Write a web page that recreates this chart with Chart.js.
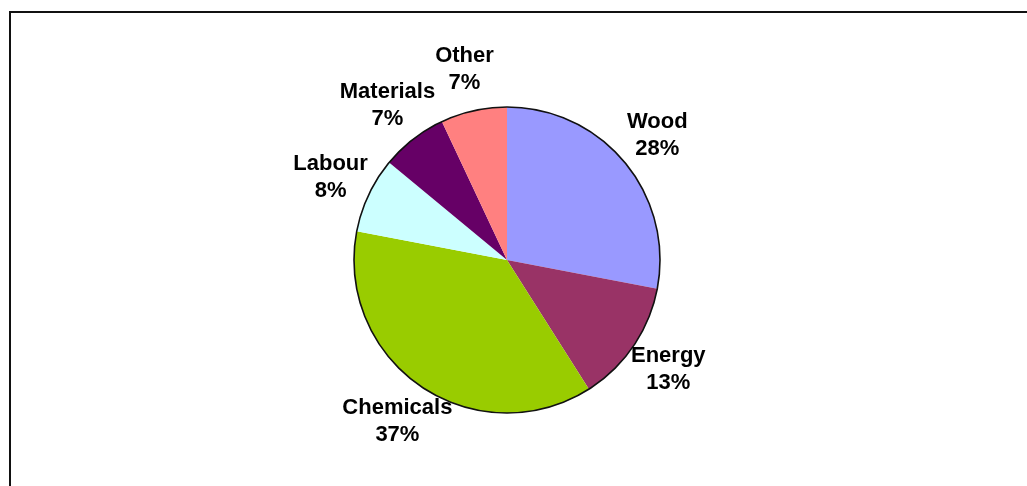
<!DOCTYPE html>
<html>
<head>
<meta charset="utf-8">
<script src="https://cdn.jsdelivr.net/npm/chart.js@4/dist/chart.umd.min.js"></script>
<style>
  html, body { margin: 0; padding: 0; background: #fff; }
  #wrap { position: relative; width: 1027px; height: 486px; }
</style>
</head>
<body>
<div id="wrap"><canvas id="pie"></canvas></div>
<script>
// Cost breakdown pie, Excel-style labels outside the slices.
const CATEGORIES = ["Wood", "Energy", "Chemicals", "Labour", "Materials", "Other"];
const SHARES = [28, 13, 37, 8, 7, 7];
const SLICE_COLORS = ["#9999ff", "#993366", "#99cc00", "#ccffff", "#660066", "#ff8080"];

// Frame around the chart area (runs off the right and bottom edges).
const framePlugin = {
  id: "frame",
  beforeDraw(chart) {
    const ctx = chart.ctx;
    ctx.save();
    ctx.strokeStyle = "#111";
    ctx.lineWidth = 2;
    ctx.strokeRect(10, 12, 1100, 600);
    ctx.restore();
  }
};

// Outer outline only, no separators between slices.
const outlinePlugin = {
  id: "outline",
  afterDatasetsDraw(chart) {
    const arc = chart.getDatasetMeta(0).data[0];
    if (!arc) return;
    const ctx = chart.ctx;
    ctx.save();
    ctx.strokeStyle = "#111";
    ctx.lineWidth = 1.6;
    ctx.beginPath();
    ctx.arc(arc.x, arc.y, arc.outerRadius, 0, Math.PI * 2);
    ctx.stroke();
    ctx.restore();
  }
};

// Two-line labels (name + percent) placed beyond each slice.
const labelPlugin = {
  id: "sliceLabels",
  afterDraw(chart) {
    const ctx = chart.ctx;
    const meta = chart.getDatasetMeta(0);
    const total = SHARES.reduce((a, b) => a + b, 0);
    ctx.save();
    ctx.fillStyle = "#000";
    ctx.font = "bold 22px 'Liberation Sans', Arial, sans-serif";
    ctx.textAlign = "center";
    ctx.textBaseline = "middle";
    meta.data.forEach((arc, i) => {
      const mid = (arc.startAngle + arc.endAngle) / 2;
      const dist = arc.outerRadius + 42;
      const x = arc.x + Math.cos(mid) * dist;
      const y = arc.y + Math.sin(mid) * dist;
      const pct = Math.round(SHARES[i] / total * 100) + "%";
      ctx.fillText(CATEGORIES[i], x, y - 13.5);
      ctx.fillText(pct, x, y + 13.5);
    });
    ctx.restore();
  }
};

new Chart(document.getElementById("pie"), {
  type: "pie",
  data: {
    labels: CATEGORIES,
    datasets: [{ data: SHARES, backgroundColor: SLICE_COLORS, borderWidth: 0 }]
  },
  options: {
    responsive: true,
    maintainAspectRatio: false,
    animation: false,
    layout: { padding: { top: 107, bottom: 73, left: 0, right: 13 } },
    plugins: { legend: { display: false }, tooltip: { enabled: false } }
  },
  plugins: [framePlugin, outlinePlugin, labelPlugin]
});
</script>
</body>
</html>
